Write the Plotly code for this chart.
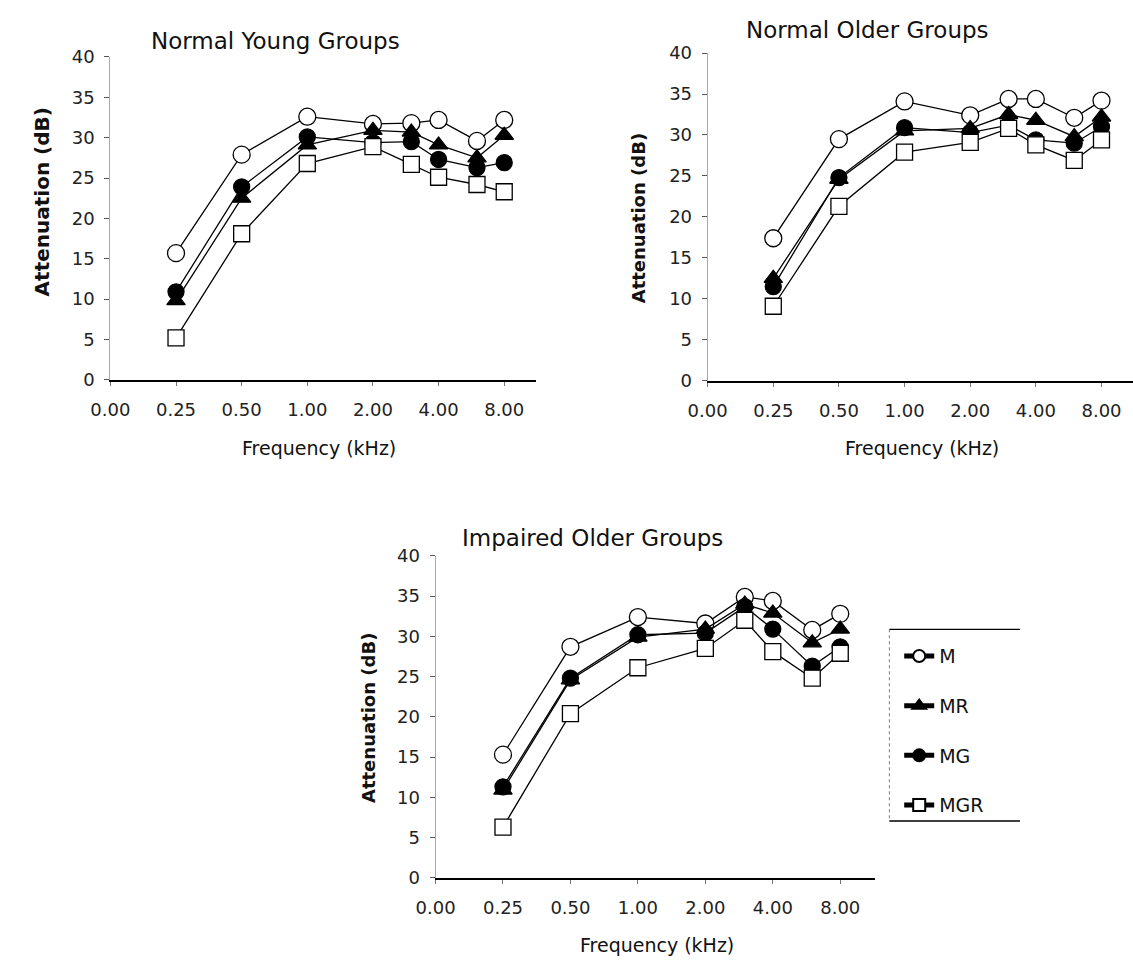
import plotly.graph_objects as go
import math

W, H = 1133, 967

freqs = [0.25, 0.5, 1, 2, 3, 4, 6, 8]
tick_vals = [0.125, 0.25, 0.5, 1, 2, 4, 8]
tick_text = ["0.00", "0.25", "0.50", "1.00", "2.00", "4.00", "8.00"]
series_names = ["M", "MR", "MG", "MGR"]

young_M = [15.7, 27.9, 32.6, 31.7, 31.8, 32.2, 29.6, 32.2]
young_MR = [9.8, 22.5, 29.1, 30.9, 30.7, 29.1, 27.5, 30.3]
young_MG = [10.9, 23.9, 30.1, 29.4, 29.5, 27.3, 26.3, 26.9]
young_MGR = [5.2, 18.1, 26.8, 28.9, 26.7, 25.1, 24.2, 23.3]

older_M = [17.4, 29.5, 34.1, 32.4, 34.4, 34.4, 32.1, 34.2]
older_MR = [12.5, 24.6, 30.5, 30.8, 32.5, 31.8, 29.8, 32.2]
older_MG = [11.5, 24.8, 30.9, 30.3, 31.2, 29.4, 29.0, 31.0]
older_MGR = [9.1, 21.3, 27.9, 29.1, 30.8, 28.8, 26.9, 29.4]

impaired_M = [15.3, 28.7, 32.4, 31.6, 34.9, 34.4, 30.8, 32.8]
impaired_MR = [10.9, 24.6, 29.9, 30.9, 34.0, 32.9, 29.2, 30.9]
impaired_MG = [11.3, 24.8, 30.2, 30.4, 33.7, 30.9, 26.3, 28.7]
impaired_MGR = [6.3, 20.4, 26.1, 28.5, 32.0, 28.1, 24.8, 27.9]

panel_titles = ["Normal Young Groups", "Normal Older Groups", "Impaired Older Groups"]
y_title = "Attenuation (dB)"
x_title = "Frequency (kHz)"

panels = [
    [young_M, young_MR, young_MG, young_MGR],
    [older_M, older_MR, older_MG, older_MGR],
    [impaired_M, impaired_MR, impaired_MG, impaired_MGR],
]

styles = {
    "M": dict(symbol="circle", color="white", size=17),
    "MR": dict(symbol="triangle-up", color="black", size=16),
    "MG": dict(symbol="circle", color="black", size=16),
    "MGR": dict(symbol="square", color="white", size=16),
}

FONT = "DejaVu Sans"

def px_x(p):
    return p / W

def px_y(p):
    return 1 - p / H

# panel geometry (pixels): x-left, x-right, y-top(40), y-bottom(0), log10 range right
geo = [
    dict(x0=92, x1=525, yt=47, yb=377, xr=math.log10(8) + 0.48 * math.log10(2)),
    dict(x0=700, x1=1133, yt=43, yb=378, xr=math.log10(8) + 0.48 * math.log10(2)),
    dict(x0=423, x1=870, yt=557, yb=886, xr=math.log10(8) + 0.51 * math.log10(2)),
]

fig = go.Figure()

for i, (data, g) in enumerate(zip(panels, geo)):
    suffix = "" if i == 0 else str(i + 1)
    for name, vals in zip(series_names, data):
        st = styles[name]
        fig.add_trace(go.Scatter(
            x=freqs, y=vals, name=name, mode="lines+markers",
            xaxis="x" + suffix, yaxis="y" + suffix,
            line=dict(color="black", width=1.3),
            marker=dict(symbol=st["symbol"], size=st["size"], color=st["color"],
                        line=dict(color="black", width=1.3)),
            legendgroup=name, showlegend=(i == 2),
        ))
    fig.layout["xaxis" + suffix] = dict(
        type="log", range=[math.log10(0.125), g["xr"]],
        domain=[px_x(g["x0"]), px_x(g["x1"])],
        anchor="y" + suffix,
        tickvals=tick_vals, ticktext=tick_text,
        showgrid=False, zeroline=False,
        showline=True, linecolor="black", linewidth=1.6,
        ticks="outside", ticklen=4, tickcolor="#777", tickwidth=1,
        ticklabelstandoff=9,
        tickfont=dict(family=FONT, size=18, color="#222"),
    )
    fig.layout["yaxis" + suffix] = dict(
        range=[0, 40], domain=[px_y(g["yb"]), px_y(g["yt"])],
        anchor="x" + suffix,
        tickvals=list(range(0, 41, 5)),
        showgrid=False, zeroline=False,
        showline=True, linecolor="#aaa", linewidth=1,
        ticks="outside", ticklen=5, tickcolor="#555", tickwidth=1,
        ticklabelstandoff=6,
        tickfont=dict(family=FONT, size=18, color="#222"),
    )

annotations = []
title_pos = [(260, 31), (863, 19), (583, 539)]
for t, (cx, cy) in zip(panel_titles, title_pos):
    annotations.append(dict(text=t, x=px_x(cx), y=px_y(cy), xref="paper", yref="paper",
                            showarrow=False, xanchor="center", yanchor="middle",
                            font=dict(family=FONT, size=23, color="#111")))

ytitle_pos = [(22, 195, 20), (629, 212, 18), (355, 723, 18)]
for cx, cy, fs in ytitle_pos:
    annotations.append(dict(text="<b>" + y_title + "</b>", x=px_x(cx), y=px_y(cy),
                            xref="paper", yref="paper", textangle=-90,
                            showarrow=False, xanchor="center", yanchor="middle",
                            font=dict(family=FONT, size=fs, color="#111")))

xtitle_pos = [(304, 447), (918, 447), (648, 955)]
for cx, cy in xtitle_pos:
    annotations.append(dict(text=x_title, x=px_x(cx), y=px_y(cy), xref="paper", yref="paper",
                            showarrow=False, xanchor="center", yanchor="middle",
                            font=dict(family=FONT, size=19, color="#111")))

shapes = [
    dict(type="line", xref="paper", yref="paper", x0=px_x(885), x1=px_x(1018),
         y0=px_y(632), y1=px_y(632), line=dict(color="black", width=1.3)),
    dict(type="line", xref="paper", yref="paper", x0=px_x(885), x1=px_x(1018),
         y0=px_y(828), y1=px_y(828), line=dict(color="black", width=1.3)),
    dict(type="line", xref="paper", yref="paper", x0=px_x(885), x1=px_x(885),
         y0=px_y(632), y1=px_y(828), line=dict(color="#777", width=1, dash="dot")),
]

fig.update_layout(
    width=W, height=H,
    margin=dict(l=0, r=0, t=0, b=0),
    paper_bgcolor="white", plot_bgcolor="white",
    annotations=annotations, shapes=shapes,
    showlegend=True,
    legend=dict(x=px_x(895), y=px_y(640), xanchor="left", yanchor="top",
                bgcolor="rgba(0,0,0,0)", borderwidth=0,
                font=dict(family=FONT, size=19, color="#111"),
                tracegroupgap=22, itemsizing="constant"),
)

fig.write_html("out.html")
